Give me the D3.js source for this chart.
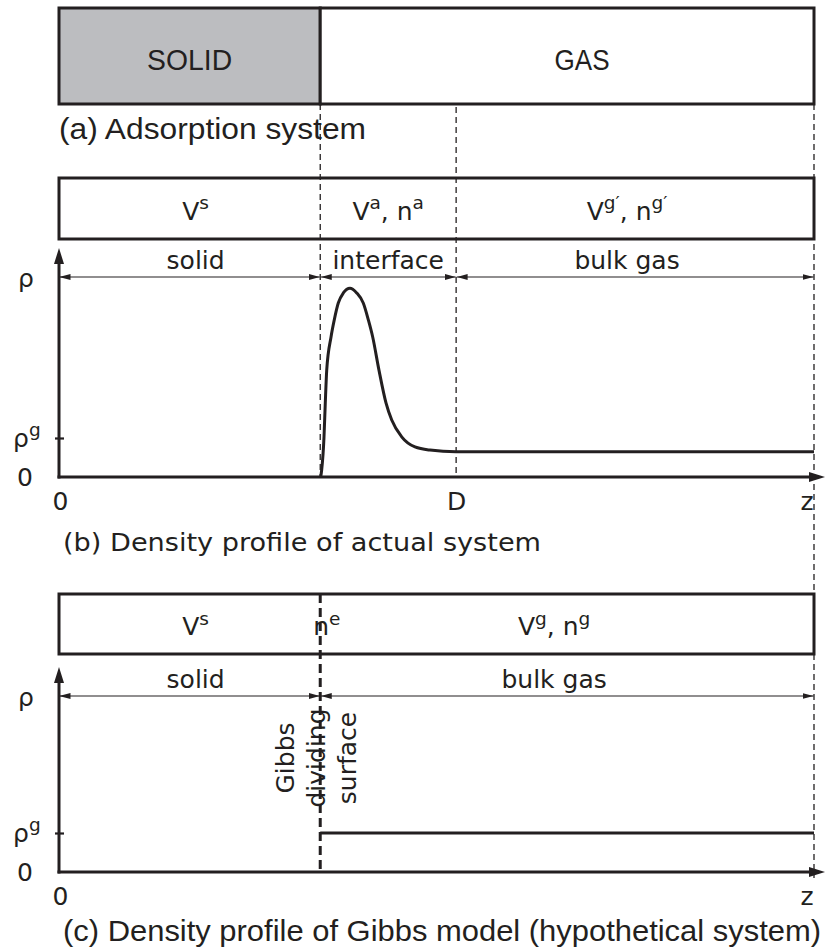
<!DOCTYPE html>
<html>
<head>
<meta charset="utf-8">
<script src="https://cdn.jsdelivr.net/npm/d3@7"></script>
<style>
  body { margin: 0; background: #fff; }
  svg text { fill: #231f20; }
</style>
</head>
<body>
<svg id="fig" width="825" height="949"></svg>
<script>
// ---- data -------------------------------------------------------------
// z positions (arbitrary length units): solid surface, edge of the interface, end of the system
const zWall = 3.46;
const zD = 5.26;
const zEnd = 10;

// (a) physical system
const phaseNames = ["SOLID", "GAS"];
const phaseEdges = [0, zWall, zEnd];

// (b) actual system
const volumeLabelsB = ["V^s", "V^a, n^a", "V^g′, n^g′"];
const regionNamesB = ["solid", "interface", "bulk gas"];
const regionEdgesB = [0, zWall, zD, zEnd];

// density profile of the actual system (density in units of the ρg tick)
const profileZ   = [3.466, 3.479, 3.510, 3.527, 3.546, 3.603, 3.646, 3.699, 3.766, 3.854,
                    3.943, 4.030, 4.097, 4.155, 4.238, 4.331, 4.407, 4.539, 4.715, 4.914, 5.258, 10.0];
const profileRho = [0.00, 0.18, 1.03, 1.90, 2.74, 3.59, 4.03, 4.46, 4.72, 4.84,
                    4.72, 4.46, 4.03, 3.59, 2.74, 1.90, 1.46, 1.03, 0.77, 0.69, 0.65, 0.65];

// (c) Gibbs model
const volumeLabelsC = ["V^s", "V^g, n^g"];
const excessLabel = "n^e";
const regionNamesC = ["solid", "bulk gas"];
const regionEdgesC = [0, zWall, zEnd];
const gibbsZ   = [zWall, zEnd];
const gibbsRho = [1, 1];
const dividingSurfaceLines = ["Gibbs", "dividing", "surface"];

// axes
const yTickValues = [0, 1];
const yTickLabels = ["0", "ρ^g"];
const xTickValuesB = [0, zD, zEnd];
const xTickLabelsB = ["0", "D", "z"];
const xTickValuesC = [0, zEnd];
const xTickLabelsC = ["0", "z"];

const captions = [
  "(a)  Adsorption system",
  "(b)  Density profile of actual system",
  "(c)  Density profile of Gibbs model (hypothetical system)"
];

// ---- layout -----------------------------------------------------------
const INK = "#231f20";
const MAIN_FONT = "'DejaVu Sans', Verdana, sans-serif";
const NARROW_FONT = "'Liberation Sans', Arial, sans-serif";
const FS = 25;

const svg = d3.select("#fig");
const x = d3.scaleLinear().domain([0, zEnd]).range([59, 814]);

const panelA = { top: 8, bottom: 104 };
const panelB = { boxTop: 178, boxBottom: 239, dimY: 277, axisTop: 248, y0: 477,
                 shifts: [6, 0, -8] };
const panelC = { boxTop: 594, boxBottom: 654, dimY: 696, axisTop: 667, y0: 872,
                 shifts: [6, -13] };
const yB = d3.scaleLinear().domain([0, 1]).range([panelB.y0, 438]);
const yC = d3.scaleLinear().domain([0, 1]).range([panelC.y0, 833]);

// ---- markers ----------------------------------------------------------
const defs = svg.append("defs");
defs.append("marker")
  .attr("id", "dimArrow").attr("markerUnits", "userSpaceOnUse")
  .attr("viewBox", "0 0 11 6").attr("markerWidth", 11).attr("markerHeight", 6)
  .attr("refX", 11).attr("refY", 3).attr("orient", "auto-start-reverse")
  .append("path").attr("d", "M0,0 L11,3 L0,6 Z").attr("fill", INK);
defs.append("marker")
  .attr("id", "axisArrow").attr("markerUnits", "userSpaceOnUse")
  .attr("viewBox", "0 0 16 10").attr("markerWidth", 16).attr("markerHeight", 10)
  .attr("refX", 6).attr("refY", 5).attr("orient", "auto")
  .append("path").attr("d", "M0,0 L16,5 L0,10 Z").attr("fill", INK);

// ---- helpers ----------------------------------------------------------
// write "V^a, n^a" style strings as text with raised tspans
function richText(sel, str, size) {
  const parts = [];
  let i = 0, buf = "";
  while (i < str.length) {
    if (str[i] === "^") {
      if (buf) { parts.push([buf, false]); buf = ""; }
      i++;
      let s = "";
      while (i < str.length && str[i] !== "," && str[i] !== " ") s += str[i++];
      parts.push([s, true]);
    } else buf += str[i++];
  }
  if (buf) parts.push([buf, false]);
  let raised = false;
  parts.forEach(([t, sup]) => {
    const ts = sel.append("tspan").text(t);
    if (sup && !raised) { ts.attr("dy", -size * 0.42).attr("font-size", size * 0.74); raised = true; }
    else if (!sup && raised) { ts.attr("dy", size * 0.42); raised = false; }
  });
  return sel;
}

function label(parent, str, px, py, anchor, size, family) {
  const t = parent.append("text")
    .attr("x", px).attr("y", py)
    .attr("text-anchor", anchor || "middle")
    .attr("font-family", family || MAIN_FONT)
    .attr("font-size", size || FS);
  return richText(t, str, size || FS);
}

function narrowText(str, px, py, width, anchor) {
  return svg.append("text").attr("x", px).attr("y", py)
    .attr("text-anchor", anchor || "start")
    .attr("font-family", NARROW_FONT).attr("font-size", 29)
    .attr("textLength", width).attr("lengthAdjust", "spacingAndGlyphs").text(str);
}

function dashed(px, y1, y2, w, dash) {
  svg.append("line")
    .attr("x1", px).attr("x2", px).attr("y1", y1).attr("y2", y2)
    .attr("stroke", INK).attr("stroke-width", w).attr("stroke-dasharray", dash);
}

// ---- guide lines between panels -----------------------------------------
dashed(x(zWall), panelA.bottom, panelB.y0, 1.3, "6,4");
dashed(x(zD), panelA.bottom + 3, panelB.y0, 1.3, "6,4");
dashed(x(zEnd), panelA.bottom, panelC.y0 + 6, 1.3, "6,4");

// ---- (a) adsorption system ----------------------------------------------
svg.append("g").selectAll("rect").data(phaseNames).join("rect")
  .attr("x", (d, i) => x(phaseEdges[i]))
  .attr("width", (d, i) => x(phaseEdges[i + 1]) - x(phaseEdges[i]))
  .attr("y", panelA.top).attr("height", panelA.bottom - panelA.top)
  .attr("fill", (d, i) => i === 0 ? "#bcbdc0" : "#fff")
  .attr("stroke", INK).attr("stroke-width", 3);
narrowText(phaseNames[0], (x(phaseEdges[0]) + x(phaseEdges[1])) / 2, 70, 85, "middle");
narrowText(phaseNames[1], (x(phaseEdges[1]) + x(phaseEdges[2])) / 2 + 15, 70, 55, "middle");
narrowText(captions[0], 59, 139, 307);

// ---- shared pieces for (b) and (c) --------------------------------------
function volumeBox(p, edges, labels) {
  const g = svg.append("g");
  g.append("rect")
    .attr("x", x(edges[0])).attr("y", p.boxTop)
    .attr("width", x(edges[edges.length - 1]) - x(edges[0]))
    .attr("height", p.boxBottom - p.boxTop)
    .attr("fill", "none").attr("stroke", INK).attr("stroke-width", 3);
  labels.forEach((l, i) => {
    const cx = (x(edges[i]) + x(edges[i + 1])) / 2 + p.shifts[i];
    label(g, l, cx, p.boxTop + (p.boxBottom - p.boxTop) / 2 + 11);
  });
  return g;
}

function dimensionRow(p, edges, names) {
  const g = svg.append("g");
  names.forEach((n, i) => {
    const a = x(edges[i]) + 0.5, b = x(edges[i + 1]) - 0.5;
    g.append("line").attr("x1", a).attr("x2", b).attr("y1", p.dimY).attr("y2", p.dimY)
      .attr("stroke", INK).attr("stroke-width", 1.2)
      .attr("marker-start", "url(#dimArrow)").attr("marker-end", "url(#dimArrow)");
    label(g, n, (a + b) / 2 + p.shifts[i], p.dimY - 8);
  });
}

function axes(p, y, xVals, xLabels) {
  const g = svg.append("g");
  // x axis
  const ax = g.append("g").attr("transform", `translate(0,${p.y0})`)
    .call(d3.axisBottom(x).tickValues(xVals).tickSize(0).tickPadding(10)
      .tickFormat((d, i) => xLabels[i]));
  ax.select(".domain").remove();
  ax.selectAll("text").attr("font-family", MAIN_FONT).attr("font-size", FS)
    .attr("fill", INK).attr("dy", null).attr("y", 33);
  ax.selectAll(".tick").filter((d, i) => i === xVals.length - 1)
    .select("text").attr("text-anchor", "end").attr("dx", -1);
  ax.selectAll(".tick").filter((d, i) => i === 0)
    .select("text").attr("dx", 1);

  // y axis ticks and labels
  const ay = g.append("g").attr("transform", `translate(${x(0)},0)`)
    .call(d3.axisLeft(y).tickValues(yTickValues).tickSize(4).tickPadding(0)
      .tickFormat(() => ""));
  ay.select(".domain").remove();
  ay.selectAll(".tick line").attr("x1", 5).attr("stroke", INK).attr("stroke-width", 2.2)
    .attr("opacity", (d) => d === 0 ? 0 : 1);
  ay.selectAll(".tick").each(function (d, i) {
    d3.select(this).select("text").remove();
    label(d3.select(this), yTickLabels[i], d === 0 ? -42 : -46, 8, "start");
  });

  // axis lines with arrowheads
  g.append("line").attr("x1", x(0)).attr("x2", x(0))
    .attr("y1", p.y0 + 1.5).attr("y2", p.axisTop + 10)
    .attr("stroke", INK).attr("stroke-width", 3).attr("marker-end", "url(#axisArrow)");
  g.append("line").attr("x1", x(0) - 1.5).attr("x2", 825 - 10)
    .attr("y1", p.y0).attr("y2", p.y0)
    .attr("stroke", INK).attr("stroke-width", 3).attr("marker-end", "url(#axisArrow)");
  // axis title
  label(g, "ρ", 26, p.axisTop + 39);
  return g;
}

// ---- (b) actual system ---------------------------------------------------
volumeBox(panelB, regionEdgesB, volumeLabelsB);
dimensionRow(panelB, regionEdgesB, regionNamesB);
axes(panelB, yB, xTickValuesB, xTickLabelsB);
svg.append("path")
  .datum(profileZ.map((z, i) => [z, profileRho[i]]))
  .attr("d", d3.line().x(d => x(d[0])).y(d => yB(d[1])).curve(d3.curveMonotoneX))
  .attr("fill", "none").attr("stroke", INK).attr("stroke-width", 3)
  .attr("stroke-linejoin", "round");
svg.append("text").attr("x", 63).attr("y", 551)
  .attr("font-family", MAIN_FONT).attr("font-size", FS)
  .attr("textLength", 478).attr("lengthAdjust", "spacingAndGlyphs").text(captions[1]);

// ---- (c) Gibbs model ------------------------------------------------------
dashed(x(zWall), panelC.boxTop, panelC.y0, 3, "9,5");
volumeBox(panelC, regionEdgesC, volumeLabelsC);
label(svg, excessLabel, x(zWall) - 7, panelC.boxTop + (panelC.boxBottom - panelC.boxTop) / 2 + 11, "start");
dimensionRow(panelC, regionEdgesC, regionNamesC);
axes(panelC, yC, xTickValuesC, xTickLabelsC);
svg.append("path")
  .datum(gibbsZ.map((z, i) => [z, gibbsRho[i]]))
  .attr("d", d3.line().x(d => x(d[0])).y(d => yC(d[1])))
  .attr("fill", "none").attr("stroke", INK).attr("stroke-width", 3);
dividingSurfaceLines.forEach((t, i) => {
  svg.append("text")
    .attr("transform", `translate(${294 + i * 31},758) rotate(-90)`)
    .attr("text-anchor", "middle").attr("font-family", MAIN_FONT).attr("font-size", FS)
    .text(t);
});
narrowText(captions[2], 63, 941, 758);
</script>
</body>
</html>
